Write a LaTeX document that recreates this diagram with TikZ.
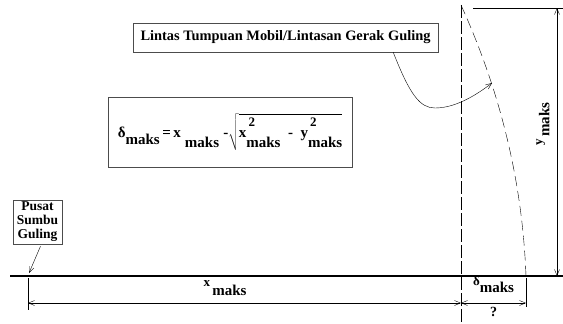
\documentclass[tikz,border=0pt]{standalone}
\usepackage{fontspec}
\setmainfont{Liberation Serif}
\usetikzlibrary{arrows.meta}
\usetikzlibrary{calc}

% index helpers for the labels
\newcommand{\maks}[1][9pt]{\raisebox{-#1}{\fontsize{15}{15}\selectfont maks}}
\newcommand{\sqr}{\rlap{\raisebox{11pt}{\fontsize{13}{12}\selectfont\,2}}}

\begin{document}
\begin{tikzpicture}[
    x=1pt, y=-1pt,
    % Label boxes
    label box/.style={
        draw=black!70,
        thin,
        fill=white,
        inner sep=1pt,
        align=center,
        font=\bfseries
    },
    % Dimension lines
    dim/.style={
        {Straight Barb[length=6pt,width=5pt]}-{Straight Barb[length=6pt,width=5pt]},
        thin
    },
    % Extension lines
    ext/.style={
        thin
    },
    % Pointer
    pointer/.style={
        -{Straight Barb[length=6pt,width=5pt]},
        thin
    },
    dim text/.style={
        font=\bfseries\fontsize{13}{15}\selectfont,
        inner sep=1pt
    }
]
\useasboundingbox (0,0) rectangle (563,324);

% Reference points
\coordinate (pivot) at (28,276);
\coordinate (top) at (461,5);
\coordinate (tip) at (526,276);

% Ground line
\draw[line width=2.6pt] (10,276) -- (563,276);

% Vertical reference and rolling path
\draw[thin, dash pattern=on 13pt off 3pt] (top) -- (461,322);
\draw[thin, dash pattern=on 10pt off 5pt] (top) .. controls (495,80) and (522,170) .. (tip);

% Labels
\node[label box, minimum width=305pt, minimum height=29pt, font=\bfseries\fontsize{14.4}{16}\selectfont] (lintas) at (285.5,37.5)
    {Lintas Tumpuan Mobil/Lintasan Gerak Guling};
\node[label box, minimum width=244pt, minimum height=70pt, font=\bfseries\fontsize{15}{17}\selectfont] (formula) at (230,132)
    {δ\maks[7pt]\,=\,x\;\maks[10pt]\;-$\sqrt{\hbox{x\sqr\maks[10pt]\ \ -\ \ y\sqr\maks[10pt]}}$};
\node[label box, minimum width=49pt, minimum height=44pt, font=\bfseries\fontsize{13.5}{14}\selectfont] (pusat) at (37.5,222)
    {Pusat\\Sumbu\\Guling};

% Pointers
\draw[pointer] ($(lintas.south east)+(-45,0)$) .. controls (410,95) and (420,108) .. (435,108)
    .. controls (455,108) and (475,96) .. (492,83);
\draw[pointer] ($(pusat.south)+(3,2)$) -- ($(pivot)+(1,-3)$);

% x maks
\draw[ext] ($(pivot)+(0,2)$) -- ($(pivot)+(0,34)$);
\draw[dim] (28,303) -- node[pos=0.455, above=6pt, dim text] {x\,\maks} (461,303);

% delta maks
\draw[ext] ($(tip)+(0,2)$) -- ($(tip)+(0,31)$);
\draw[dim] (461,303) -- node[above=9pt, dim text] {δ\maks[7pt]}
    node[below=3pt, dim text, font=\bfseries\fontsize{14}{15}\selectfont] {?} (526,303);

% y maks
\draw[ext] (473,8) -- (563,8);
\draw[dim] (557,8) -- (557,276);
\node[rotate=90, dim text] (ylabel) at (543,124) {y\,\maks[7pt]};

\end{tikzpicture}
\end{document}
